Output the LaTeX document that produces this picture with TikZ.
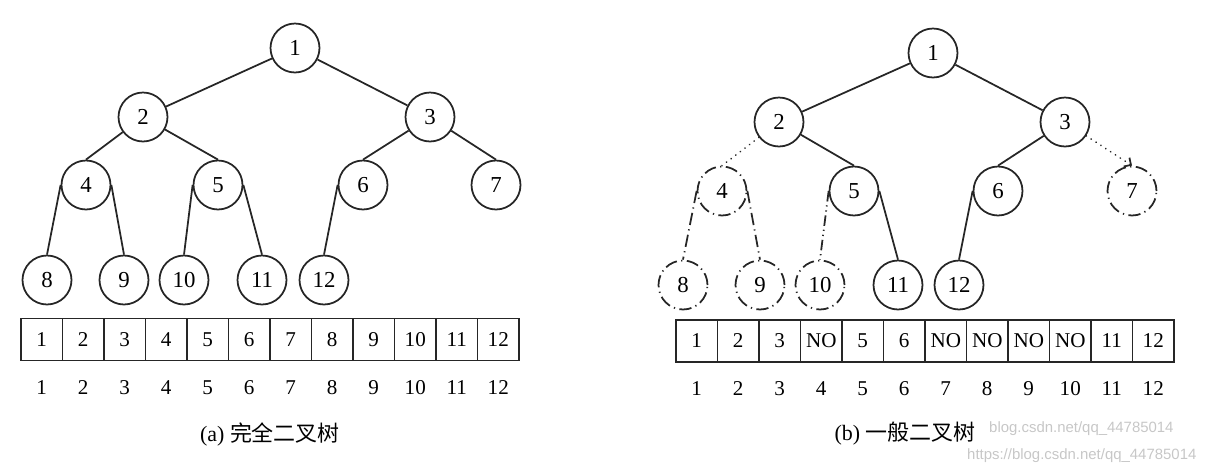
\documentclass[tikz,border=0pt]{standalone}
\usepackage{fontspec}
\setmainfont{Liberation Serif}
\newfontfamily\cjk{Noto Sans CJK SC}
\newfontfamily\wmfont{Liberation Sans}
\usetikzlibrary{arrows.meta}

\begin{document}
\begin{tikzpicture}[x=0.02cm,y=-0.02cm,
    vtx/.style={circle,draw=black!85,line width=1pt,minimum size=0.98cm,inner sep=0pt,font=\fontsize{13}{14}\selectfont},
    gone/.style={vtx,dash pattern=on 7pt off 2.5pt on 0.7pt off 2.5pt},
    edge/.style={draw=black!85,line width=1pt},
    dotedge/.style={edge,line cap=round,dash pattern=on 0.1pt off 3.2pt},
    dashdotedge/.style={edge,dash pattern=on 7pt off 2.5pt on 0.7pt off 2.5pt},
    dashdotdotedge/.style={edge,dash pattern=on 6pt off 2.2pt on 0.7pt off 2.2pt on 0.7pt off 2.2pt},
    cell/.style={draw=black!85,line width=1pt,minimum width=0.83cm,minimum height=0.84cm,inner sep=0pt,font=\fontsize{12}{14}\selectfont},
    idx/.style={font=\fontsize{12}{14}\selectfont},
    subcap/.style={font=\fontsize{12.5}{14}\selectfont},
    wm/.style={text=black!22,anchor=west,font=\wmfont\fontsize{8.5}{10}\selectfont}]
  \useasboundingbox (0,0) rectangle (1217,474);
  % (a) complete binary tree
  \foreach \n/\x/\y in {1/295/48, 2/143/117, 3/430/117, 4/86/185, 5/218/185, 6/363/185,
                        7/496/185, 8/47/280, 9/124/280, 10/184/280, 11/262/280, 12/324/280} {
    \node[vtx] (a\n) at (\x,\y) {\n};
  }
  \draw[edge] (a1) -- (a2);
  \draw[edge] (a1) -- (a3);
  \draw[edge] (a2) -- (a4.north);
  \draw[edge] (a2) -- (a5.north);
  \draw[edge] (a3) -- (a6.north);
  \draw[edge] (a3) -- (a7.north);
  \draw[edge] (a4.west) -- (a8.north);
  \draw[edge] (a4.east) -- (a9.north);
  \draw[edge] (a5.west) -- (a10.north);
  \draw[edge] (a5.east) -- (a11.north);
  \draw[edge] (a6.west) -- (a12.north);
  % sequential storage of (a)
  \foreach \i in {1,...,12} {
    \node[cell] (ca\i) at ({41.5*\i+0.25},339.5) {\i};
    \node[idx] (ia\i) at ({41.5*\i+0.25},388) {\i};
  }
  \node[subcap] (capa) at (270,434) {(a) {\cjk 完全二叉树}};

  % (b) general binary tree, missing nodes drawn dash-dotted
  \foreach \n/\x/\y/\s in {1/933/53/vtx, 2/779/122/vtx, 3/1065/122/vtx, 4/722/191/gone,
                           5/854/191/vtx, 6/998/191/vtx, 7/1132/191/gone, 8/683/285/gone,
                           9/760/285/gone, 10/820/285/gone, 11/898/285/vtx, 12/959/285/vtx} {
    \node[\s] (b\n) at (\x,\y) {\n};
  }
  \draw[edge] (b1) -- (b2);
  \draw[edge] (b1) -- (b3);
  \draw[dotedge] (b2) -- (b4.north);
  \draw[edge] (b2) -- (b5.north);
  \draw[edge] (b3) -- (b6.north);
  \draw[dotedge,-{Straight Barb[length=3pt,width=6pt]}] (b3) -- (b7.north);
  \draw[dashdotedge] (b4.west) -- (b8.north);
  \draw[dashdotedge] (b4.east) -- (b9.north);
  \draw[dashdotdotedge] (b5.west) -- (b10.north);
  \draw[edge] (b5.east) -- (b11.north);
  \draw[edge] (b6.west) -- (b12.north);
  % sequential storage of (b)
  \foreach \t [count=\i] in {1,2,3,NO,5,6,NO,NO,NO,NO,11,12} {
    \node[cell] (cb\i) at ({676+41.5*(\i-0.5)},341) {\t};
    \node[idx] (ib\i) at ({676+41.5*(\i-0.5)},389) {\i};
  }
  \node[subcap] (capb) at (905,434) {(b) {\cjk 一般二叉树}};

  % watermark
  \node[wm] (wm1) at (983,429) {blog.csdn.net/qq\_44785014};
  \node[wm] (wm2) at (961,456) {https://blog.csdn.net/qq\_44785014};
\end{tikzpicture}
\end{document}
